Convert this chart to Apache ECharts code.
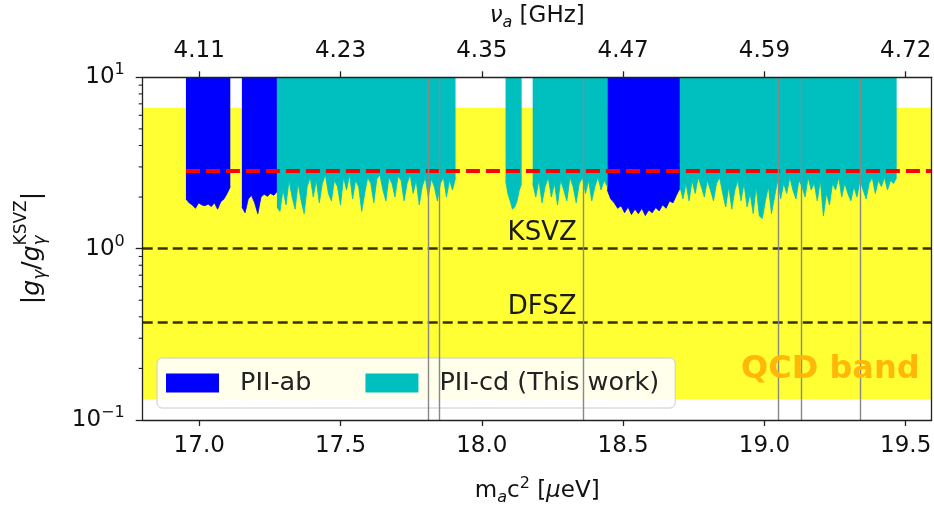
<!DOCTYPE html>
<html>
<head>
<meta charset="utf-8">
<script src="https://cdn.jsdelivr.net/npm/echarts@6/dist/echarts.min.js"></script>
<style>
  html, body { margin: 0; padding: 0; background: #ffffff; }
  #chart { width: 934px; height: 506px; }
</style>
</head>
<body>
<div id="chart"></div>
<script>
// ---- Axes ----
const massMin = 16.8;
const massMax = 19.592;
const massTicks = [17.0, 17.5, 18.0, 18.5, 19.0, 19.5];
const freqTickLabels = ['4.11', '4.23', '4.35', '4.47', '4.59', '4.72'];
const couplingMin = 0.1;
const couplingMax = 10;
const couplingMinorTicks = [0.2, 0.3, 0.4, 0.5, 0.6, 0.7, 0.8, 0.9, 2, 3, 4, 5, 6, 7, 8, 9];

// ---- Reference couplings ----
const ksvzLevel = 1.0;
const dfszLevel = 0.37;
const qcdBandLow = 0.132;
const qcdBandHigh = 6.65;
const targetLevel = 2.84;
const targetStart = 16.953;
const excludedMasses = [17.813, 17.853, 18.360, 19.045, 19.129, 19.343];

// ---- PII-ab exclusion limits (scan segments, evenly spaced points) ----
const ab1Range = [16.953, 17.110];
const ab1Limit = [1.95, 1.85, 1.80, 1.72, 1.85, 1.80, 1.78, 1.82, 1.76, 1.85, 1.70, 1.88, 1.95, 2.10, 2.30];
const ab2Range = [17.151, 17.275];
const ab2Limit = [1.75, 1.62, 1.95, 2.05, 1.85, 1.60, 2.00, 2.08, 2.02, 2.10, 2.05, 2.15];
const ab3Range = [18.444, 18.701];
const ab3Limit = [2.20, 1.95, 1.85, 1.72, 1.78, 1.62, 1.75, 1.58, 1.70, 1.60, 1.72, 1.56, 1.68, 1.62, 1.74, 1.66,
                  1.80, 1.72, 1.90, 1.85, 2.05, 2.25];

// ---- PII-cd exclusion limits ----
const cd1Range = [17.275, 17.907];
const cd1Limit = [1.75, 1.65, 2.2, 1.8, 2.5, 2.0, 1.7, 2.4, 1.9, 1.6, 2.3, 2.6, 2.0, 2.5, 1.85, 2.4, 2.7, 2.1, 1.9, 2.5,
                  2.3, 1.8, 2.6, 2.2, 2.7, 1.95, 2.5, 2.3, 1.65, 2.1, 2.6, 2.4, 1.85, 2.55, 2.7, 2.2, 1.9, 2.6, 2.4, 2.0,
                  2.65, 2.5, 1.9, 2.4, 2.7, 2.1, 2.5, 1.8, 2.3, 2.6, 2.0, 2.55, 2.3, 1.9, 2.4, 2.6, 2.0, 2.5, 2.2, 2.6];
const cd2Range = [18.084, 18.141];
const cd2Limit = [2.5, 2.1, 1.9, 1.7, 1.75, 1.9, 2.2, 2.4];
const cd3Range = [18.180, 18.444];
const cd3Limit = [2.4, 2.0, 2.5, 1.85, 2.3, 2.6, 2.0, 2.4, 1.8, 2.5, 2.2, 1.9, 2.6, 2.3, 1.85, 2.4, 2.6, 2.1, 2.5, 1.9,
                  2.3, 2.6, 2.2, 2.5, 2.3];
const cd4Range = [18.701, 19.468];
const cd4Limit = [2.3, 1.95, 2.4, 1.9, 2.5, 2.1, 2.6,
                  2.3, 2.0, 2.5, 2.2, 1.9, 2.4, 2.6, 2.1, 1.75, 2.3,
                  1.7, 2.2, 2.5, 1.9, 2.4, 1.75, 2.1, 1.6, 2.3, 1.55,
                  1.5, 1.9, 2.3, 1.6, 2.0, 2.5, 1.95, 2.4, 2.1, 2.6,
                  2.2, 1.95, 2.5, 2.3, 2.0, 2.6, 2.2, 2.4, 1.9, 2.5,
                  1.55, 2.1, 1.8, 2.4, 2.2, 2.6, 2.0, 2.4, 2.1, 1.9,
                  2.3, 2.0, 2.5, 2.2, 1.95, 2.4, 2.6, 2.1, 2.5, 2.3, 2.6, 2.2, 2.5, 2.4, 2.6];

// ---- Styling ----
const FONT = 'DejaVu Sans';
const TEXT = '#111111';
const AXIS = '#222222';
const BLUE = '#0000ff';
const TEAL = '#00bfbf';
const YELLOW = '#ffff33';

const NAME_AB = 'PII-ab';
const NAME_CD = 'PII-cd (This work)';

function segment(range, limits) {
  const n = limits.length;
  return limits.map((v, i) => [range[0] + i * (range[1] - range[0]) / (n - 1), v]);
}

function exclusionSeries(name, color, range, limits) {
  return {
    type: 'line',
    name: name,
    data: segment(range, limits),
    symbol: 'none',
    showSymbol: false,
    smooth: false,
    sampling: null,
    lineStyle: { color: color, width: 0.8 },
    itemStyle: { color: color },
    areaStyle: { color: color, opacity: 1, origin: 'end' },
    z: 2,
    silent: true
  };
}

function powerLabel(v) {
  const e = Math.round(Math.log10(v));
  const s = e < 0 ? '\u2212' + (-e) : String(e);
  return '{b|10}{s|' + s + '}';
}

const chart = echarts.init(document.getElementById('chart'), null, { renderer: 'canvas' });

// Rotated y-axis title |g_γ / g_γ^KSVZ| assembled from pieces
function yTitleGroup() {
  const base = 25, small = 17;
  const ctx = document.createElement('canvas').getContext('2d');
  const w = (txt, size, italic) => {
    ctx.font = (italic ? 'italic ' : '') + size + 'px "' + FONT + '"';
    return ctx.measureText(txt).width;
  };
  const parts = [];
  let x = 0;
  const put = (txt, size, italic, dy) => {
    parts.push({ type: 'text', x: x, y: dy, style: {
      text: txt, fontSize: size, fontFamily: FONT, fontStyle: italic ? 'italic' : 'normal',
      fill: TEXT, verticalAlign: 'middle', align: 'left' } });
    return w(txt, size, italic);
  };
  x += put('|', base, false, 0);
  x += put('g', base, true, 0);
  x += put('\u03b3', small, true, 9);
  x += put('/', base, false, 0);
  x += put('g', base, true, 0);
  const wg = put('\u03b3', small, true, 9);
  const wk = put('KSVZ', small, false, -10);
  x += Math.max(wg, wk);
  x += put('|', base, false, 0);
  parts.forEach(p => { p.x -= x / 2; });
  return { type: 'group', x: 32, y: 248, rotation: Math.PI / 2, children: parts, silent: true };
}

const option = {
  animation: false,
  backgroundColor: '#ffffff',
  grid: { left: 142.7, right: 2.3, top: 77.3, bottom: 86, containLabel: false, outerBoundsMode: 'none' },
  legend: {
    data: [NAME_AB, NAME_CD],
    left: 157, top: 358,
    orient: 'horizontal',
    icon: 'rect',
    itemWidth: 53, itemHeight: 19,
    itemGap: 54,
    padding: [12, 16, 12, 9],
    backgroundColor: 'rgba(255,255,255,0.9)',
    borderColor: '#cccccc', borderWidth: 1, borderRadius: 5,
    selectedMode: false,
    textStyle: { fontFamily: FONT, fontSize: 25.5, color: '#222222', padding: [0, 0, 0, 16] }
  },
  xAxis: [
    {
      type: 'value', position: 'bottom', min: massMin, max: massMax,
      axisLine: { show: true, onZero: false, lineStyle: { color: AXIS, width: 1.3 } },
      axisTick: { show: true, length: 6, customValues: massTicks, lineStyle: { color: AXIS, width: 1.3 } },
      axisLabel: { customValues: massTicks, margin: 15, fontFamily: FONT, fontSize: 23, color: TEXT,
                   formatter: v => v.toFixed(1) },
      splitLine: { show: false },
      name: '{n|m}{sub|a}{n|c}{sup|2}{n| [}{it|\u03bc}{n|eV]}',
      nameLocation: 'middle', nameGap: 56,
      nameTextStyle: {
        fontFamily: FONT, color: TEXT,
        rich: {
          n: { fontFamily: FONT, fontSize: 23, color: TEXT, lineHeight: 30 },
          it: { fontFamily: FONT, fontSize: 23, color: TEXT, fontStyle: 'italic', lineHeight: 30 },
          sub: { fontFamily: FONT, fontSize: 16, color: TEXT, fontStyle: 'italic', lineHeight: 16, verticalAlign: 'bottom' },
          sup: { fontFamily: FONT, fontSize: 16, color: TEXT, lineHeight: 16, verticalAlign: 'top' }
        }
      },
      z: 10
    },
    {
      type: 'value', position: 'top', min: massMin, max: massMax,
      axisLine: { show: true, onZero: false, lineStyle: { color: AXIS, width: 1.3 } },
      axisTick: { show: true, length: 6, customValues: massTicks, lineStyle: { color: AXIS, width: 1.3 } },
      axisLabel: { customValues: massTicks, margin: 15, fontFamily: FONT, fontSize: 23, color: TEXT,
                   formatter: v => freqTickLabels[massTicks.findIndex(t => Math.abs(t - v) < 1e-6)] },
      splitLine: { show: false },
      name: '{it|\u03bd}{sub|a}{n| [GHz]}',
      nameLocation: 'middle', nameGap: 46,
      nameTextStyle: {
        fontFamily: FONT, color: TEXT,
        rich: {
          n: { fontFamily: FONT, fontSize: 23, color: TEXT, lineHeight: 30 },
          it: { fontFamily: FONT, fontSize: 23, color: TEXT, fontStyle: 'italic', lineHeight: 30 },
          sub: { fontFamily: FONT, fontSize: 16, color: TEXT, fontStyle: 'italic', lineHeight: 16, verticalAlign: 'bottom' }
        }
      },
      z: 10
    }
  ],
  yAxis: [
    {
      type: 'log', logBase: 10, min: couplingMin, max: couplingMax, position: 'left',
      axisLine: { show: true, onZero: false, lineStyle: { color: AXIS, width: 1.3 } },
      axisTick: { show: true, length: 7, lineStyle: { color: AXIS, width: 1.3 } },
      minorTick: { show: false },
      axisLabel: {
        margin: 18, formatter: powerLabel,
        rich: {
          b: { fontFamily: FONT, fontSize: 23, color: TEXT, lineHeight: 30 },
          s: { fontFamily: FONT, fontSize: 16, color: TEXT, lineHeight: 16, verticalAlign: 'top' }
        }
      },
      splitLine: { show: false },
      z: 10
    },
    {
      type: 'log', logBase: 10, min: couplingMin, max: couplingMax, position: 'right',
      axisLine: { show: true, onZero: false, lineStyle: { color: AXIS, width: 1.3 } },
      axisTick: { show: false }, axisLabel: { show: false }, splitLine: { show: false },
      z: 10
    }
  ],
  graphic: [
    yTitleGroup(),
    {
      type: 'text', left: 741, top: 354, silent: true, z: 50,
      style: { text: 'QCD band', fontFamily: FONT, fontWeight: 'bold', fontSize: 32, fill: '#ffb70a' }
    }
  ],
  series: [
    // QCD band
    {
      type: 'custom', name: 'QCD band', silent: true, z: 1,
      data: [[massMin, massMax, qcdBandLow, qcdBandHigh]],
      encode: { x: [0, 1], y: [2, 3] },
      renderItem: (params, api) => {
        const p1 = api.coord([api.value(0), api.value(3)]);
        const p2 = api.coord([api.value(1), api.value(2)]);
        return { type: 'rect', shape: { x: p1[0], y: p1[1], width: p2[0] - p1[0], height: p2[1] - p1[1] },
                 style: { fill: YELLOW } };
      }
    },
    exclusionSeries(NAME_AB, BLUE, ab1Range, ab1Limit),
    exclusionSeries(NAME_AB, BLUE, ab2Range, ab2Limit),
    exclusionSeries(NAME_AB, BLUE, ab3Range, ab3Limit),
    exclusionSeries(NAME_CD, TEAL, cd1Range, cd1Limit),
    exclusionSeries(NAME_CD, TEAL, cd2Range, cd2Limit),
    exclusionSeries(NAME_CD, TEAL, cd3Range, cd3Limit),
    exclusionSeries(NAME_CD, TEAL, cd4Range, cd4Limit),
    // KSVZ / DFSZ benchmark lines and excluded (interference) masses
    {
      type: 'line', name: 'benchmarks', data: [], silent: true, z: 3,
      markLine: {
        silent: true, symbol: ['none', 'none'], animation: false,
        lineStyle: { color: 'rgba(0,0,0,0.8)', width: 2.6, type: [10, 5] },
        label: { show: true, position: 'insideMiddleTop', formatter: '{b}', distance: [0, 2], offset: [5, 0],
                 fontFamily: FONT, fontSize: 26, color: '#1a1a1a' },
        data: [
          { name: 'KSVZ', yAxis: ksvzLevel },
          { name: 'DFSZ', yAxis: dfszLevel }
        ]
      }
    },
    {
      type: 'line', name: 'excluded', data: [], silent: true, z: 3,
      markLine: {
        silent: true, symbol: ['none', 'none'], animation: false,
        lineStyle: { color: '#888888', width: 1.4, type: 'solid' },
        label: { show: false },
        data: excludedMasses.map(m => ({ xAxis: m }))
      }
    },
    // Target sensitivity
    {
      type: 'line', name: 'target', silent: true, z: 4,
      data: [[targetStart, targetLevel], [massMax, targetLevel]],
      symbol: 'none', showSymbol: false,
      lineStyle: { color: '#ff0000', width: 4, type: [14, 6] }
    },
    // Minor ticks of the logarithmic coupling axis
    {
      type: 'custom', name: 'minor ticks', silent: true, z: 10, clip: false,
      data: couplingMinorTicks.map(v => [massMin, v]),
      renderItem: (params, api) => {
        const p = api.coord([api.value(0), api.value(1)]);
        return { type: 'line', shape: { x1: p[0] - 4, y1: p[1], x2: p[0], y2: p[1] },
                 style: { stroke: AXIS, lineWidth: 1.1 } };
      }
    }
  ]
};

chart.setOption(option);
</script>
</body>
</html>
